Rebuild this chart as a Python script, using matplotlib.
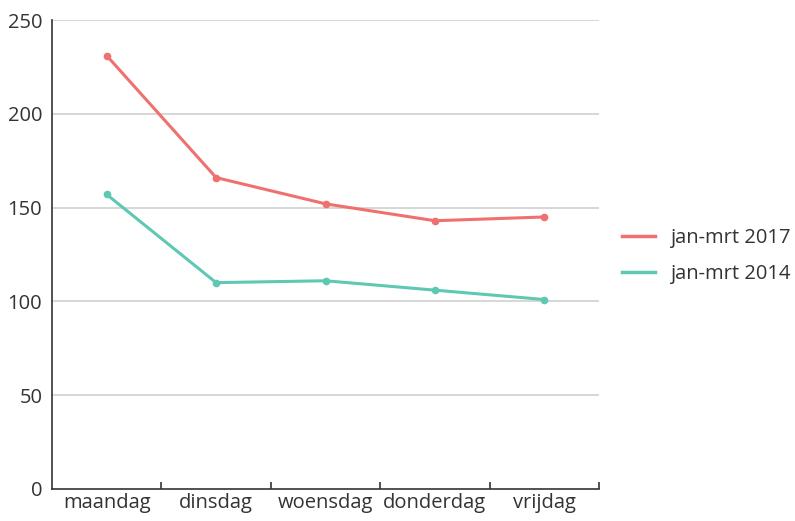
import matplotlib.pyplot as plt
from matplotlib.lines import Line2D

plt.rcParams['font.family'] = ['Open Sans', 'DejaVu Sans']

days = ["maandag", "dinsdag", "woensdag", "donderdag", "vrijdag"]
jan_mrt_2017 = [231, 166, 152, 143, 145]
jan_mrt_2014 = [157, 110, 111, 106, 101]
series_labels = ["jan-mrt 2017", "jan-mrt 2014"]
y_ticks = [0, 50, 100, 150, 200, 250]

red = '#f07070'
teal = '#5ec8b2'
text_col = '#333333'
fs = 14.5

fig = plt.figure(figsize=(7.95, 5.21), dpi=100)
ax = fig.add_axes([52 / 795, 32 / 521, 547 / 795, 469 / 521])

x = list(range(len(days)))
ax.plot(x, jan_mrt_2017, color=red, lw=2.2, marker='o', ms=4.5, zorder=3)
ax.plot(x, jan_mrt_2014, color=teal, lw=2.2, marker='o', ms=4.5, zorder=3)

ax.set_xlim(-0.5, len(days) - 0.5)
ax.set_ylim(0, 250)
ax.set_yticks(y_ticks)
ax.set_yticklabels([str(v) for v in y_ticks], fontsize=fs, color=text_col)
ax.tick_params(axis='y', length=0, pad=7)
for v in y_ticks[1:]:
    ax.axhline(v, color='#d0d0d0', lw=1.2, zorder=1)

ax.set_xticks(x)
ax.set_xticklabels(days, fontsize=fs, color=text_col)
ax.tick_params(axis='x', which='major', length=0, pad=3)
ax.set_xticks([i + 0.5 for i in x], minor=True)
ax.tick_params(axis='x', which='minor', direction='in', length=5, width=1.2, color=text_col)

for side in ['top', 'right']:
    ax.spines[side].set_visible(False)
for side in ['left', 'bottom']:
    ax.spines[side].set_color(text_col)
    ax.spines[side].set_linewidth(1.2)

handles = [Line2D([], [], color=red, lw=2.5), Line2D([], [], color=teal, lw=2.5)]
fig.legend(handles, series_labels, loc='center left', bbox_to_anchor=(622 / 795, 1 - 256 / 521),
           frameon=False, fontsize=fs, handlelength=1.65, handletextpad=0.75,
           labelspacing=0.82, borderpad=0, borderaxespad=0, labelcolor=text_col)

fig.savefig('out.png', dpi=100)
